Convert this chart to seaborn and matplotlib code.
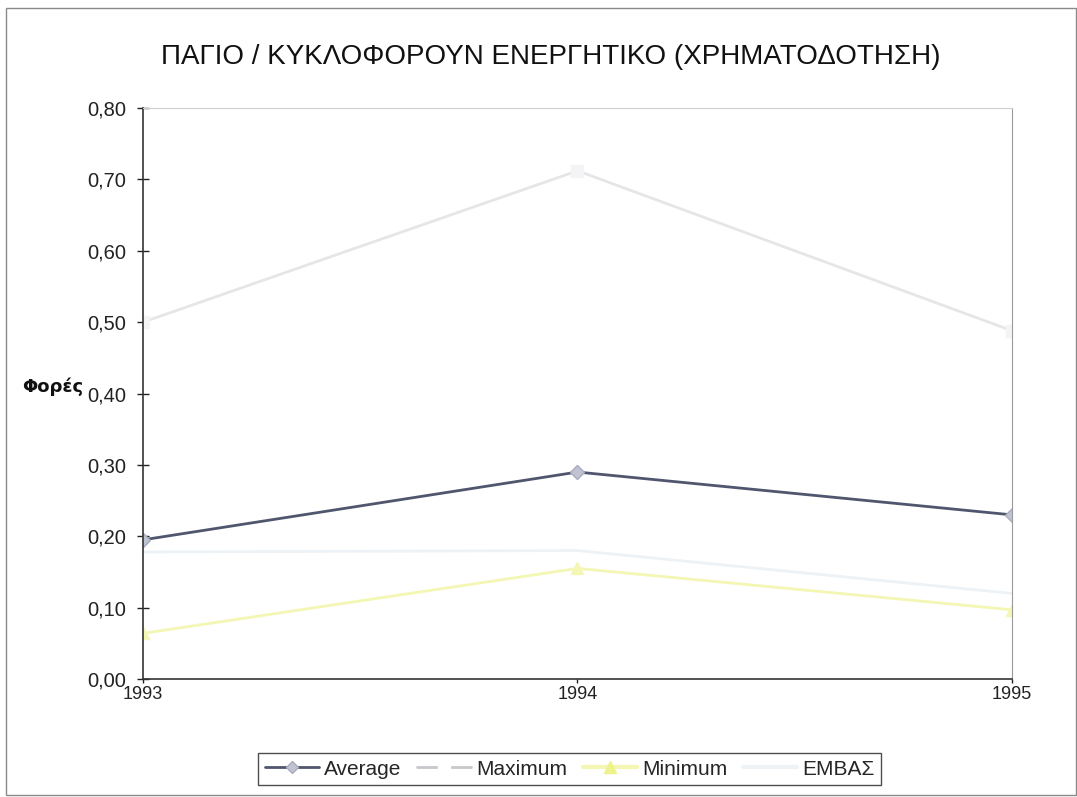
import matplotlib
matplotlib.use("Agg")
import matplotlib.pyplot as plt
import seaborn as sns
import pandas as pd
from matplotlib.ticker import FuncFormatter
from matplotlib.patches import Rectangle
from matplotlib.lines import Line2D

years = [1993, 1994, 1995]
average = [0.195, 0.290, 0.230]
maximum = [0.500, 0.712, 0.488]
minimum = [0.064, 0.155, 0.097]
embas = [0.178, 0.180, 0.120]
series_names = ["Average", "Maximum", "Minimum", "ΕΜΒΑΣ"]
title = "ΠΑΓΙΟ / ΚΥΚΛΟΦΟΡΟΥΝ ΕΝΕΡΓΗΤΙΚΟ (ΧΡΗΜΑΤΟΔΟΤΗΣΗ)"
ylabel = "Φορές"

rows = []
for name, vals in zip(series_names, [average, maximum, minimum, embas]):
    for y, v in zip(years, vals):
        rows.append({"Year": y, "Value": v, "Series": name})
df = pd.DataFrame(rows)

sns.set_style("white")
plt.rcParams["font.family"] = ["Liberation Sans", "DejaVu Sans"]

fig = plt.figure(figsize=(10.77, 7.97), dpi=100)
ax = fig.add_axes([0.1328, 0.148, 0.8068, 0.7165])

palette = {"Average": "#50566e", "Maximum": "#e6e6e8", "Minimum": "#f4f6b4", "ΕΜΒΑΣ": "#edf2f6"}
sns.lineplot(data=df, x="Year", y="Value", hue="Series", hue_order=series_names,
             palette=palette, ax=ax, linewidth=2.0, legend=False)
ax.plot(years, average, linestyle="none", marker="D", markersize=7,
        markerfacecolor="#c0c3d2", markeredgecolor="#a8acbe")
ax.plot(years, maximum, linestyle="none", marker="s", markersize=8,
        markerfacecolor="#f4f4f6", markeredgecolor="#f4f4f6")
ax.plot(years, minimum, linestyle="none", marker="^", markersize=9,
        markerfacecolor="#f4f6b4", markeredgecolor="#f4f6b4")

ax.set_xlim(1993, 1995)
ax.set_ylim(0, 0.80)
ax.set_xticks(years)
ax.set_xticklabels([str(y) for y in years])
ax.set_yticks([i / 10 for i in range(9)])
ax.yaxis.set_major_formatter(FuncFormatter(lambda v, p: f"{v:.2f}".replace(".", ",")))
ax.tick_params(axis="y", labelsize=14.5, direction="inout", length=8, width=1,
               colors="#222222", left=True, pad=8)
ax.tick_params(axis="x", labelsize=13, direction="out", length=3, width=1,
               colors="#222222", bottom=True, pad=2)
for s in ["left", "bottom"]:
    ax.spines[s].set_color("#333333")
    ax.spines[s].set_linewidth(1.2)
ax.spines["top"].set_color("#cfcfcf")
ax.spines["right"].set_color("#9a9a9a")
ax.spines["right"].set_linestyle((0, (2, 1)))
ax.set_xlabel("")
ax.set_ylabel("")
fig.text(0.021, 0.515, ylabel, fontsize=13, family=["DejaVu Sans"], fontweight="bold",
         va="center", ha="left", color="#111111")

fig.text(0.511, 0.928, title, fontsize=20, ha="center", va="center", color="#111111")

handles = [
    Line2D([], [], color="#50566e", lw=2, marker="D", markersize=6,
           markerfacecolor="#c0c3d2", markeredgecolor="#a8acbe"),
    Line2D([], [], color="#c8c8cc", lw=2, marker="s", markersize=8,
           markerfacecolor="white", markeredgecolor="white"),
    Line2D([], [], color="#f4f6b4", lw=3, marker="^", markersize=8,
           markerfacecolor="#eef28a", markeredgecolor="#eef28a"),
    Line2D([], [], color="#edf2f6", lw=3),
]
leg = fig.legend(handles, series_names, loc="center", bbox_to_anchor=(0.529, 0.035),
                 ncol=4, fontsize=15, frameon=True, fancybox=False, handlelength=2.6,
                 handletextpad=0.25, columnspacing=0.75, borderpad=0.3)
leg.get_frame().set_edgecolor("#222222")
leg.get_frame().set_linewidth(1.0)

fig.patches.append(Rectangle((0.006, 0.003), 0.993, 0.987, transform=fig.transFigure,
                             fill=False, edgecolor="#8a8a8a", linewidth=1.0))

fig.savefig("out.png", dpi=100, facecolor="white")
